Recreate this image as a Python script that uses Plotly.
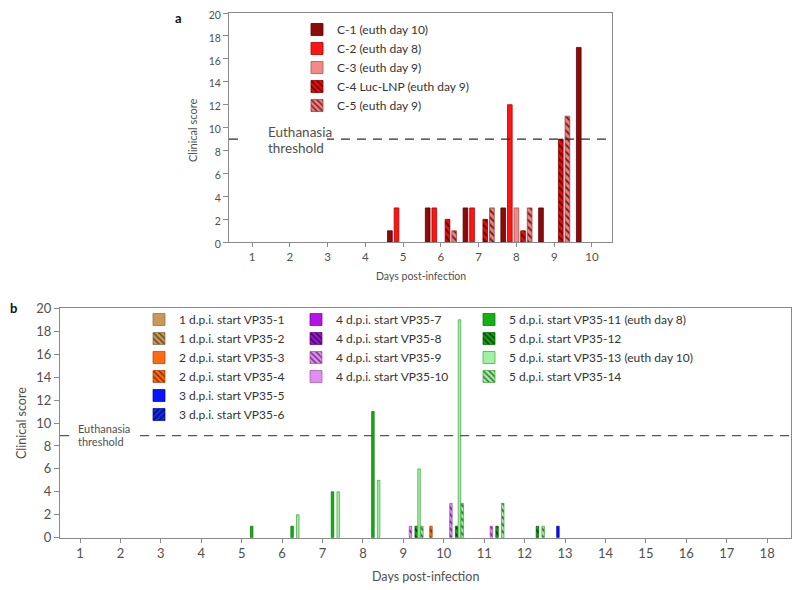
import plotly.graph_objects as go

# ---------------- data ----------------
DAYS_A = [1, 2, 3, 4, 5, 6, 7, 8, 9, 10]
NAMES_A = ["C-1 (euth day 10)", "C-2 (euth day 8)", "C-3 (euth day 9)",
           "C-4 Luc-LNP (euth day 9)", "C-5 (euth day 9)"]
C1 = [None, None, None, None, 1, 3, 3, 3, 3, 17]
C2 = [None, None, None, None, 3, 3, 3, 12, None, None]
C3 = [None, None, None, None, None, None, None, 3, None, None]
C4 = [None, None, None, None, None, 2, 2, 1, 9, None]
C5 = [None, None, None, None, None, 1, 3, 3, 11, None]
SERIES_A = [C1, C2, C3, C4, C5]

DAYS_B = list(range(1, 19))
NAMES_B = ["1 d.p.i. start VP35-1", "1 d.p.i. start VP35-2",
           "2 d.p.i. start VP35-3", "2 d.p.i. start VP35-4",
           "3 d.p.i. start VP35-5", "3 d.p.i. start VP35-6",
           "4 d.p.i. start VP35-7", "4 d.p.i. start VP35-8",
           "4 d.p.i. start VP35-9", "4 d.p.i. start VP35-10",
           "5 d.p.i. start VP35-11 (euth day 8)", "5 d.p.i. start VP35-12",
           "5 d.p.i. start VP35-13 (euth day 10)", "5 d.p.i. start VP35-14"]
N = None
VP1 = [N] * 18
VP2 = [N] * 18
VP3 = [N] * 18
VP4 = [N, N, N, N, N, N, N, N, N, 1, N, N, N, N, N, N, N, N]
VP5 = [N, N, N, N, N, N, N, N, N, N, N, N, 1, N, N, N, N, N]
VP6 = [N] * 18
VP7 = [N] * 18
VP8 = [N] * 18
VP9 = [N, N, N, N, N, N, N, N, 1, 3, 1, N, N, N, N, N, N, N]
VP10 = [N] * 18
VP11 = [N, N, N, N, 1, 1, 4, 11, N, N, N, N, N, N, N, N, N, N]
VP12 = [N, N, N, N, N, N, N, N, 1, 1, 1, 1, N, N, N, N, N, N]
VP13 = [N, N, N, N, N, 2, 4, 5, 6, 19, N, N, N, N, N, N, N, N]
VP14 = [N, N, N, N, N, N, N, N, 1, 3, 3, 1, N, N, N, N, N, N]
SERIES_B = [VP1, VP2, VP3, VP4, VP5, VP6, VP7, VP8, VP9, VP10, VP11, VP12, VP13, VP14]

THRESH_A = 9
THRESH_B = 8.9
TICKS_A = list(range(1, 11))
TICKS_B = list(range(1, 19))
YTICKS = list(range(0, 21, 2))

# ---------------- styles ----------------
FONT = "Lato"
TXT = "#505050"
W, H, OFF = 800, 590, 8  # page body margin offset


def PX(x):
    return (x - OFF) / W


def PY(y):
    return 1 - (y - OFF) / H


STY_A = [  # fill, outline, pattern fg, shape
    ("#8c0a0a", "#5a0000", None, ""),
    ("#ff1414", "#b00000", None, ""),
    ("#f28888", "#b05555", None, ""),
    ("#ee0a0a", "#8a0000", "#500000", "\\"),
    ("#f08080", "#a04545", "#6a1a1a", "\\"),
]
STY_B = [
    ("#c9995c", "#8a6a3a", None, ""),
    ("#c9995c", "#8a6a3a", "#5a4020", "\\"),
    ("#ff6a14", "#b04000", None, ""),
    ("#ff6a14", "#b04000", "#7a2a00", "\\"),
    ("#0a14ff", "#0000a0", None, ""),
    ("#1430e6", "#0000a0", "#000070", "/"),
    ("#b414e6", "#700090", None, ""),
    ("#9c14d2", "#600080", "#3a0050", "\\"),
    ("#e08ef0", "#a050b0", "#6a2a7a", "\\"),
    ("#e08ef0", "#a050b0", None, ""),
    ("#14b014", "#007000", None, ""),
    ("#14a014", "#006000", "#003a00", "\\"),
    ("#a2f0a2", "#40a040", None, ""),
    ("#a2f0a2", "#40a040", "#2a6a2a", "\\"),
]
# slot order (left to right inside a day) for panel b series indices
SLOT_B = [0, 1, 3, 2, 4, 5, 6, 7, 9, 8, 10, 11, 12, 13]
LEG_B = ["legend2"] * 6 + ["legend3"] * 4 + ["legend4"] * 4

fig = go.Figure()

# panel a bars
slot_a, w_a = 0.175, 0.124
for i, (vals, name, st) in enumerate(zip(SERIES_A, NAMES_A, STY_A)):
    fill, line, fg, shape = st
    pat = dict(shape=shape, fgcolor=fg, bgcolor=fill, size=5, solidity=0.35) if shape else None
    fig.add_trace(go.Bar(
        x=DAYS_A, y=vals, name=name, xaxis="x", yaxis="y",
        offset=(i - 2) * slot_a - w_a / 2, width=w_a,
        marker=dict(color=fill, line=dict(color=line, width=0.8), pattern=pat),
        legend="legend", legendrank=i + 1,
    ))

# panel b bars
slot_b, w_b = 0.0705, 0.062
for k in range(14):
    pos = SLOT_B.index(k)
    fill, line, fg, shape = STY_B[k]
    pat = dict(shape=shape, fgcolor=fg, bgcolor=fill, size=5, solidity=0.35) if shape else None
    fig.add_trace(go.Bar(
        x=DAYS_B, y=SERIES_B[k], name=NAMES_B[k], xaxis="x2", yaxis="y2",
        offset=(pos - 6.5) * slot_b - w_b / 2, width=w_b,
        marker=dict(color=fill, line=dict(color=line, width=0.7), pattern=pat),
        legend=LEG_B[k], legendrank=k + 1,
    ))


def axis_common(size):
    return dict(showline=True, linecolor="#8a8a8a", linewidth=1, mirror=True,
                ticks="outside", tickcolor="#8a8a8a", showgrid=False, zeroline=False,
                automargin=False, ticklabeloverflow="allow",
                tickfont=dict(family=FONT, size=size, color=TXT))


fig.update_layout(
    template="none",
    width=W, height=H, margin=dict(l=0, r=0, t=0, b=0, pad=0, autoexpand=False),
    paper_bgcolor="white", plot_bgcolor="white",
    barmode="overlay",
    font=dict(family=FONT, color=TXT),
    xaxis=dict(domain=[PX(229), PX(612)], range=[0.39, 10.53], tickvals=TICKS_A,
               ticklen=4, anchor="y", **axis_common(11.5)),
    yaxis=dict(domain=[PY(242.3), PY(13)], range=[0, 20], tickvals=YTICKS,
               ticklen=5, anchor="x", ticklabelshift=2, **axis_common(10.5)),
    xaxis2=dict(domain=[PX(60), PX(791)], range=[0.505, 18.59], tickvals=TICKS_B,
                ticklen=4, anchor="y2", **axis_common(13)),
    yaxis2=dict(domain=[PY(537.7), PY(308.3)], range=[0, 20], tickvals=YTICKS,
                ticklen=5, anchor="x2", **axis_common(13)),
)

leg_common = dict(bgcolor="rgba(0,0,0,0)", borderwidth=0, xanchor="left", yanchor="top",
                  tracegroupgap=0, itemwidth=30, itemclick=False,
                  font=dict(family=FONT, size=12, color="#333333"))
fig.update_layout(
    legend=dict(x=PX(297), y=PY(15), **leg_common),
    legend2=dict(x=PX(139), y=PY(305), **leg_common),
    legend3=dict(x=PX(296), y=PY(305), **leg_common),
    legend4=dict(x=PX(469), y=PY(305), **leg_common),
)

# threshold lines + masks behind labels
shapes = [
    dict(type="line", xref="x domain", yref="y", x0=0, x1=1, y0=THRESH_A, y1=THRESH_A,
         line=dict(color="#2a2a2a", width=1.3, dash="9px,7px"), layer="above"),
    dict(type="line", xref="x2 domain", yref="y2", x0=0, x1=1, y0=THRESH_B, y1=THRESH_B,
         line=dict(color="#555555", width=1.3, dash="9px,7px"), layer="above"),
    dict(type="rect", xref="paper", yref="y", x0=PX(239), x1=PX(327),
         y0=THRESH_A - 0.35, y1=THRESH_A + 0.35, fillcolor="white", line=dict(width=0), layer="above"),
    dict(type="rect", xref="paper", yref="y2", x0=PX(71), x1=PX(135),
         y0=THRESH_B - 0.35, y1=THRESH_B + 0.35, fillcolor="white", line=dict(width=0), layer="above"),
]
fig.update_layout(shapes=shapes)

ann = [
    dict(text="<b>a</b>", x=PX(184), y=PY(8), xanchor="right", yanchor="top",
         font=dict(family=FONT, size=13, color="#111111")),
    dict(text="<b>b</b>", x=PX(8), y=PY(308), xanchor="left", yanchor="middle",
         font=dict(family=FONT, size=13, color="#111111")),
    dict(text="Clinical score", x=PX(193), y=PY(131), textangle=-90,
         xanchor="center", yanchor="middle", font=dict(family=FONT, size=11, color=TXT)),
    dict(text="Clinical score", x=PX(21), y=PY(423), textangle=-90,
         xanchor="center", yanchor="middle", font=dict(family=FONT, size=12.5, color=TXT)),
    dict(text="Days post-infection", x=PX(421), y=PY(276),
         xanchor="center", yanchor="middle", font=dict(family=FONT, size=10.5, color=TXT)),
    dict(text="Days post-infection", x=PX(425), y=PY(576),
         xanchor="center", yanchor="middle", font=dict(family=FONT, size=12.5, color=TXT)),
    dict(text="Euthanasia", x=PX(266), y=PY(132), xanchor="left", yanchor="middle",
         font=dict(family=FONT, size=13.5, color=TXT)),
    dict(text="threshold", x=PX(266), y=PY(148), xanchor="left", yanchor="middle",
         font=dict(family=FONT, size=13.5, color=TXT)),
    dict(text="Euthanasia", x=PX(76), y=PY(428), xanchor="left", yanchor="middle",
         font=dict(family=FONT, size=11, color=TXT)),
    dict(text="threshold", x=PX(76), y=PY(442), xanchor="left", yanchor="middle",
         font=dict(family=FONT, size=11, color=TXT)),
]
for a in ann:
    a.update(xref="paper", yref="paper", showarrow=False)
fig.update_layout(annotations=ann)

fig.write_html("out.html")
